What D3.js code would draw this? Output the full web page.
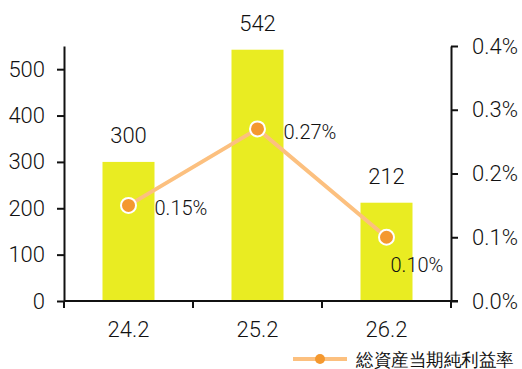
<!DOCTYPE html>
<html>
<head>
<meta charset="utf-8">
<script src="https://cdn.jsdelivr.net/npm/d3@7"></script>
<style>
  html, body { margin: 0; padding: 0; background: #fff; }
  svg text { font-family: Roboto, sans-serif; font-weight: 300; fill: #111; }
</style>
</head>
<body>
<svg id="chart" width="522" height="369"></svg>
<script>
// Fiscal periods
const categories = ["24.2", "25.2", "26.2"];
// Bar series (left axis)
const barValues = [300, 542, 212];
// Return on total assets, % (right axis)
const rateValues = [0.15, 0.27, 0.10];
const rateLabelSide = ["right", "right", "below"];
// Axis ticks
const leftTicks = [0, 100, 200, 300, 400, 500];
const rightTicks = [0, 0.1, 0.2, 0.3, 0.4];
const seriesName = "総資産当期純利益率";

const svg = d3.select("#chart");
const margin = { left: 64, right: 71, top: 46, bottom: 68 };
const W = 522, H = 369;
const x0 = margin.left, x1 = W - margin.right;
const yTop = margin.top, yBot = H - margin.bottom;

const x = d3.scaleBand().domain(categories).range([x0, x1]).paddingInner(0).paddingOuter(0);
const yL = d3.scaleLinear().domain([0, 550]).range([yBot, yTop]);
const yR = d3.scaleLinear().domain([0, 0.4]).range([yBot, yTop]);

const barColor = "#e9ec22";
const lineColor = "#fcc07f";
const dotColor = "#f4982f";
const fs = 22;

// Bars
const barW = 52;
svg.append("g").selectAll("rect").data(barValues).join("rect")
  .attr("x", (d, i) => x(categories[i]) + x.bandwidth() / 2 - barW / 2)
  .attr("y", d => yL(d))
  .attr("width", barW)
  .attr("height", d => yBot - yL(d))
  .attr("fill", barColor);

// Bar value labels
svg.append("g").selectAll("text").data(barValues).join("text")
  .attr("x", (d, i) => x(categories[i]) + x.bandwidth() / 2)
  .attr("y", d => yL(d) - 19)
  .attr("text-anchor", "middle")
  .attr("font-size", fs)
  .text(d => d);

// Axes
const axisStyle = g => {
  g.selectAll(".domain").attr("stroke", "#111").attr("stroke-width", 2);
  g.selectAll(".tick line").attr("stroke", "#111").attr("stroke-width", 2);
  g.selectAll(".tick text").attr("font-size", fs).attr("fill", "#111")
    .attr("font-family", "Roboto, sans-serif").attr("font-weight", 300);
};

svg.append("g").attr("transform", `translate(${x0},0)`)
  .call(d3.axisLeft(yL).tickValues(leftTicks).tickSize(7).tickPadding(12).tickSizeOuter(0))
  .call(axisStyle);

svg.append("g").attr("transform", `translate(${x1},0)`)
  .call(d3.axisRight(yR).tickValues(rightTicks).tickSize(7).tickPadding(14).tickSizeOuter(0)
    .tickFormat(d => d3.format(".1f")(d) + "%"))
  .call(axisStyle);

// X axis with ticks between categories
const xg = svg.append("g").attr("transform", `translate(0,${yBot})`);
xg.append("line").attr("x1", x0).attr("x2", x1 + 7).attr("stroke", "#111").attr("stroke-width", 2);
const bounds = categories.map(c => x(c)).concat([x1]);
xg.selectAll("line.tk").data(bounds).join("line").attr("class", "tk")
  .attr("x1", d => d).attr("x2", d => d).attr("y1", 0).attr("y2", 7)
  .attr("stroke", "#111").attr("stroke-width", 2);
xg.selectAll("text").data(categories).join("text")
  .attr("x", d => x(d) + x.bandwidth() / 2)
  .attr("y", 36)
  .attr("text-anchor", "middle")
  .attr("font-size", fs)
  .text(d => d);

// Rate line
const cx = (d, i) => x(categories[i]) + x.bandwidth() / 2;
svg.append("path").datum(rateValues)
  .attr("fill", "none").attr("stroke", lineColor).attr("stroke-width", 4)
  .attr("d", d3.line().x(cx).y(d => yR(d)));
svg.append("g").selectAll("circle").data(rateValues).join("circle")
  .attr("cx", cx).attr("cy", d => yR(d)).attr("r", 7.5)
  .attr("fill", dotColor).attr("stroke", "#fff").attr("stroke-width", 2);
svg.append("g").selectAll("text").data(rateValues).join("text")
  .attr("x", (d, i) => cx(d, i) + (rateLabelSide[i] === "right" ? 26 : 4))
  .attr("y", (d, i) => yR(d) + (rateLabelSide[i] === "right" ? 10 : 35))
  .attr("font-size", 20)
  .text(d => d3.format(".2f")(d) + "%");

// Legend
const lg = svg.append("g").attr("transform", `translate(0,359)`);
lg.append("line").attr("x1", 293).attr("x2", 347).attr("stroke", lineColor).attr("stroke-width", 4);
lg.append("circle").attr("cx", 320).attr("r", 5).attr("fill", dotColor);
lg.append("text").attr("x", 356).attr("y", 7).attr("font-size", 18)
  .attr("font-family", "'Noto Sans CJK JP', sans-serif").attr("font-weight", 400)
  .attr("textLength", 158).attr("lengthAdjust", "spacingAndGlyphs")
  .text(seriesName);
</script>
</body>
</html>
